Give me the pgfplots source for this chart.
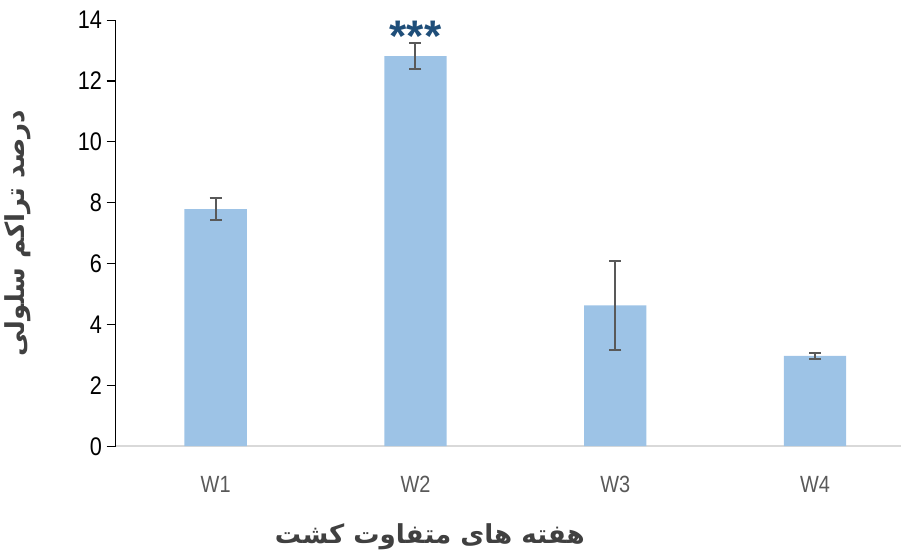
\documentclass[border=0pt]{standalone}
\usepackage{fontspec}
\usepackage{pgfplots}
\pgfplotsset{compat=1.18}
\setmainfont{Liberation Sans}[FakeStretch=0.85]
\newfontfamily\arabicfont[Script=Arabic]{DejaVu Sans}
\newfontfamily\starfont{Liberation Sans}
\TeXXeTstate=1

\definecolor{barblue}{HTML}{9DC3E6}
\definecolor{errgray}{HTML}{595959}
\definecolor{axgray}{HTML}{D9D9D9}
\definecolor{starblue}{HTML}{1F4E79}
\definecolor{lblgray}{HTML}{404040}

\begin{document}
\begin{tikzpicture}
\begin{axis}[
    scale only axis,
    width=586pt, height=318pt,
    xmin=-0.5, xmax=3.43,
    ymin=0, ymax=14,
    ytick={0,2,...,14},
    xtick=data,
    xticklabels={W1,W2,W3,W4},
    axis x line*=bottom,
    axis y line*=left,
    x axis line style={draw=axgray, line width=1.5pt},
    y axis line style={draw=black, line width=1.1pt},
    xtick style={draw=none},
    ytick style={draw=black, line width=0.8pt},
    tick align=outside,
    major tick length=6.75pt,
    /pgf/number format/assume math mode=true,
    yticklabel style={font=\fontsize{19}{19}\selectfont, text=black},
    xticklabel style={font=\fontsize{17.5}{17.5}\selectfont, text=errgray, yshift=-12pt},
    ylabel={\arabicfont\bfseries\beginR درصد تراکم سلولی\endR},
    ylabel style={at={(axis description cs:-0.125,0.5)}, anchor=center, rotate=0,
        font=\fontsize{19.5}{19.5}\selectfont, text=lblgray},
    xlabel={\arabicfont\bfseries\beginR هفته های متفاوت کشت\endR},
    xlabel style={at={(axis description cs:0.40,-0.212)}, anchor=center,
        font=\fontsize{19.5}{19.5}\selectfont, text=lblgray},
    ybar, bar width=46.5pt,
]
\addplot[fill=barblue, draw=none,
    error bars/.cd, y dir=both, y explicit,
    error bar style={draw=errgray, line width=1.5pt},
    error mark options={rotate=90, mark size=4.5pt, line width=1.5pt, draw=errgray}]
    coordinates {
    (0,7.79) +- (0,0.36)
    (1,12.82) +- (0,0.43)
    (2,4.63) +- (0,1.47)
    (3,2.97) +- (0,0.10)
};
\node[anchor=base, text=starblue, font=\starfont\bfseries\fontsize{33}{33}\selectfont, inner sep=0pt]
    at (axis cs:1,12.98) {***};
\coordinate (T) at (rel axis cs:0,1);
\coordinate (B) at (rel axis cs:0,0);
\end{axis}
% padding above and below, as in the reference
\path (T) ++(0,15pt);
\path (B) ++(0,-83pt);
\end{tikzpicture}
\end{document}
